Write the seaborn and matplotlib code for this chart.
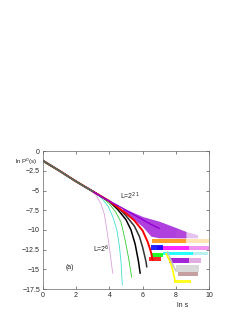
import seaborn as sns
import matplotlib
matplotlib.use("Agg")
import matplotlib.pyplot as plt

sns.set_style("ticks")
plt.rcParams['font.family'] = ['Liberation Sans', 'DejaVu Sans']

# finite-size curves (ln s, ln P), small L first
curves = {
    "plum":  ([0, 1, 2, 2.9, 3.2, 3.5, 3.7, 3.85, 4.0, 4.1, 4.2],
              [-1.1, -2.45, -3.8, -5.0, -5.6, -6.7, -8.0, -10.0, -12.2, -13.8, -15.5]),
    "turquoise": ([0, 1, 2, 3, 3.6, 3.95, 4.2, 4.45, 4.6, 4.7, 4.78],
                  [-1.15, -2.5, -3.85, -5.1, -6.1, -7.1, -8.3, -10.0, -12.0, -14.0, -17.0]),
    "limegreen": ([0, 1, 2, 3, 3.6, 4.0, 4.4, 4.7, 4.95, 5.15, 5.34],
                  [-1.2, -2.5, -3.85, -5.1, -5.9, -6.7, -7.8, -9.0, -11.3, -13.5, -16.0]),
    "black": ([0, 1, 2, 3, 4.0, 4.5, 5.0, 5.3, 5.55, 5.75, 5.85],
              [-1.25, -2.5, -3.85, -5.1, -6.4, -7.4, -8.7, -10.0, -11.8, -14.0, -15.5]),
    "#333333": ([0, 1, 2, 3, 4.0, 4.5, 5.0, 5.5, 5.8, 6.0, 6.2, 6.25],
                [-1.25, -2.5, -3.85, -5.1, -6.35, -7.1, -8.2, -9.5, -10.8, -12.2, -14.0, -14.7]),
    "red":   ([0, 1, 2, 3, 4.0, 5.0, 5.5, 6.0, 6.3, 6.5, 6.6],
              [-1.2, -2.5, -3.85, -5.1, -6.35, -7.9, -8.8, -10.1, -11.5, -12.8, -13.8]),
    "yellow": ([7.4, 7.6, 7.75, 7.85, 7.95],
               [-13.0, -13.8, -14.6, -15.5, -16.5]),
    "silver": ([7.5, 7.7, 7.85, 8.0],
               [-12.8, -13.8, -14.6, -15.2]),
}
widths = {"black": 1.1, "#333333": 1.1, "red": 1.4, "yellow": 1.2, "silver": 1.0}

# start of the bundle, where all sizes overlap
bundle_x = [0, 0.5, 1, 1.5, 2, 2.5, 3]
bundle_y = [-1.2, -1.85, -2.5, -3.2, -3.85, -4.5, -5.1]

# largest system: upper envelope
big_x = [2.5, 3, 3.5, 4, 4.5, 5, 5.5, 6, 6.5, 7]
big_y = [-4.5, -5.1, -5.75, -6.35, -6.9, -7.5, -8.1, -8.7, -9.3, -9.8]

# noisy purple cloud of the largest system
cloud_x = [4.8, 6.0, 6.5, 7.0, 8.0, 8.6]
cloud_hi = [-7.2, -8.3, -8.6, -8.9, -9.7, -10.2]
cloud_lo = [-7.5, -9.6, -10.8, -11.0, -11.0, -11.0]
fringe_x = [8.0, 8.6, 9.3]
fringe_hi = [-9.9, -10.2, -10.6]
fringe_lo = [-11.0, -11.0, -11.0]

# flat tails: (colour, ln s start, ln s end, ln P top, ln P bottom)
bands = [
    ("darkorange", 6.55, 8.6, -11.15, -11.7),
    ("navajowhite", 8.6, 10.0, -11.15, -11.7),
    ("magenta", 6.85, 8.8, -12.05, -12.5),
    ("violet", 8.8, 10.0, -12.05, -12.5),
    ("blue", 6.5, 7.2, -11.9, -12.6),
    ("cyan", 7.2, 9.0, -12.75, -13.2),
    ("paleturquoise", 9.0, 9.9, -12.75, -13.2),
    ("lime", 6.5, 7.2, -12.9, -13.4),
    ("red", 6.4, 7.1, -13.4, -14.0),
    ("darkviolet", 7.6, 8.8, -13.6, -14.2),
    ("plum", 8.8, 9.5, -13.6, -14.2),
    ("lightgray", 8.0, 9.4, -14.5, -15.3),
    ("rosybrown", 8.1, 9.3, -15.3, -15.9),
    ("yellow", 7.9, 8.9, -16.35, -16.75),
]

fig = plt.figure(figsize=(2.53, 3.27), dpi=100)
ax = fig.add_axes([0.169, 0.116, 0.658, 0.422])

ax.fill_between(cloud_x, cloud_lo, cloud_hi, color="darkviolet", alpha=0.75, lw=0)
ax.fill_between(fringe_x, fringe_lo, fringe_hi, color="mediumorchid", alpha=0.35, lw=0)
for col, x0, x1, top, bot in bands:
    ax.fill_between([x0, x1], [bot, bot], [top, top], color=col, alpha=0.85, lw=0)
for col, (xs, ys) in curves.items():
    sns.lineplot(x=xs, y=ys, color=col, lw=widths.get(col, 0.6), ax=ax, sort=False)
sns.lineplot(x=big_x, y=big_y, color="darkviolet", lw=1.0, ax=ax, sort=False)
sns.lineplot(x=bundle_x, y=bundle_y, color="#4f6f5a", lw=1.3, ax=ax, sort=False)

ax.set_xlim(0, 10)
ax.set_ylim(-17.5, 0)
ax.set_xticks([0, 2, 4, 6, 8, 10])
yt = [0, -2.5, -5, -7.5, -10, -12.5, -15, -17.5]
ax.set_yticks(yt)
ax.set_yticklabels(["0", "\u22122.5", "\u22125", "\u22127.5", "\u221210", "\u221212.5", "\u221215", "\u221217.5"])
ax.tick_params(direction="in", top=True, right=True, labelsize=5, length=2, width=0.4, pad=2)
for s in ax.spines.values():
    s.set_linewidth(0.5)
    s.set_color("#666666")

fig.text(0.058, 0.5, "ln P$^0$(s)", fontsize=4.5)
fig.text(0.70, 0.06, "ln s", fontsize=5)
ax.text(4.65, -6.2, "L=2$^{21}$", fontsize=5)
ax.text(3.0, -12.8, "L=2$^{6}$", fontsize=5)
ax.text(1.35, -15.0, "(a)", fontsize=5)

fig.savefig("out.png", dpi=100)
